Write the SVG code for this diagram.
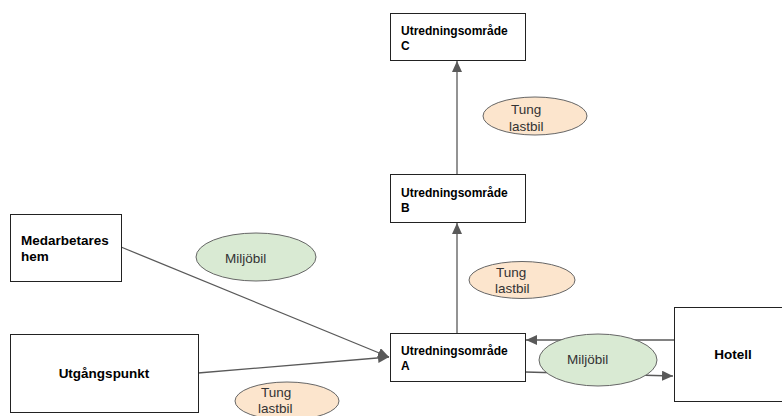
<svg xmlns="http://www.w3.org/2000/svg" width="782" height="416" viewBox="0 0 782 416">
<style>
.box{fill:#fff;stroke:#222;stroke-width:1}
.bl{font-family:"Liberation Sans",Arial,sans-serif;font-weight:bold;font-size:12px;fill:#000}
.bb{font-family:"Liberation Sans",Arial,sans-serif;font-weight:bold;font-size:13.5px;fill:#000}
.el{font-family:"Liberation Sans",Arial,sans-serif;font-size:13.5px;fill:#333}
.green{fill:#d9ead3;stroke:#666;stroke-width:1}
.orange{fill:#fce5cd;stroke:#666;stroke-width:1}
.con{fill:none;stroke:#595959;stroke-width:1.3}
</style>
<defs>
<marker id="arr" markerUnits="userSpaceOnUse" markerWidth="12" markerHeight="10" refX="11" refY="5" orient="auto">
<path d="M0,0 L11,5 L0,10 Z" fill="#595959"/>
</marker>
</defs>
<rect width="782" height="416" fill="#fff"/>
<g id="connectors">
<path class="con" d="M121 247 L389 357" marker-end="url(#arr)"/>
<path class="con" d="M198 373 L389 357" marker-end="url(#arr)"/>
<path class="con" d="M457 333 L457 223" marker-end="url(#arr)"/>
<path class="con" d="M457 174 L457 61" marker-end="url(#arr)"/>
<path class="con" d="M674 340 L526 340" marker-end="url(#arr)"/>
<path class="con" d="M525 372 L673 376" marker-end="url(#arr)"/>
</g>
<g id="nodeC">
<rect class="box" x="390.5" y="13.5" width="135" height="47"/>
<text class="bl" x="401" y="35">Utredningsområde</text>
<text class="bl" x="401" y="50">C</text>
</g>
<g id="nodeB">
<rect class="box" x="390.5" y="174.5" width="135" height="48"/>
<text class="bl" x="401" y="197">Utredningsområde</text>
<text class="bl" x="401" y="212">B</text>
</g>
<g id="nodeA">
<rect class="box" x="390.5" y="333.5" width="135" height="48"/>
<text class="bl" x="401" y="355">Utredningsområde</text>
<text class="bl" x="401" y="370">A</text>
</g>
<g id="nodeMedarbetares">
<rect class="box" x="10.5" y="214.5" width="111" height="67"/>
<text class="bb" x="21" y="245">Medarbetares</text>
<text class="bb" x="21" y="261">hem</text>
</g>
<g id="nodeUtgangspunkt">
<rect class="box" x="10.5" y="334.5" width="188" height="78"/>
<text class="bb" x="104" y="378" text-anchor="middle">Utgångspunkt</text>
</g>
<g id="nodeHotell">
<rect class="box" x="674.5" y="307.5" width="120" height="94"/>
<text class="bb" x="733" y="359" text-anchor="middle">Hotell</text>
</g>
<g id="labelMiljobil1">
<ellipse class="green" cx="256" cy="257" rx="60" ry="24"/>
<text class="el" x="225" y="263">Miljöbil</text>
</g>
<g id="labelMiljobil2">
<ellipse class="green" cx="598" cy="360" rx="59" ry="26"/>
<text class="el" x="567" y="364">Miljöbil</text>
</g>
<g id="labelTung1">
<ellipse class="orange" cx="535" cy="116" rx="52" ry="19"/>
<text class="el" x="511" y="114">Tung</text>
<text class="el" x="509" y="131">lastbil</text>
</g>
<g id="labelTung2">
<ellipse class="orange" cx="522" cy="280" rx="53" ry="18.5"/>
<text class="el" x="496" y="277">Tung</text>
<text class="el" x="495" y="293">lastbil</text>
</g>
<g id="labelTung3">
<ellipse class="orange" cx="287" cy="401" rx="52" ry="19"/>
<text class="el" x="261" y="397">Tung</text>
<text class="el" x="258" y="413">lastbil</text>
</g>
</svg>
